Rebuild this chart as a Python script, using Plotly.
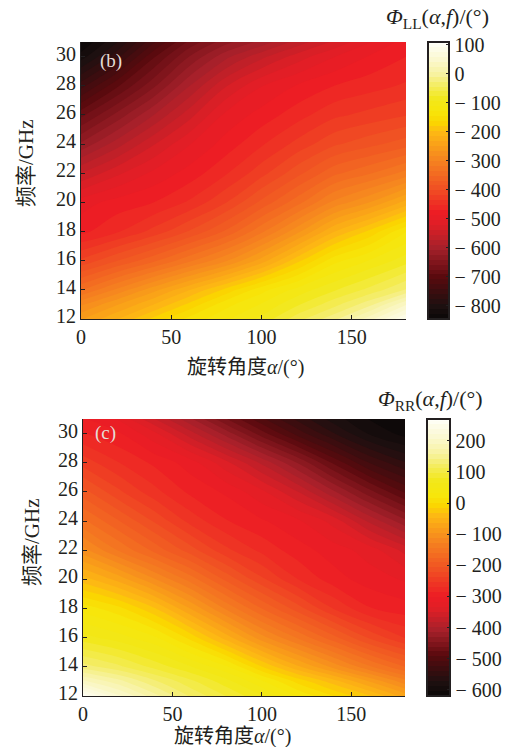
import plotly.graph_objects as go

W, H = 515, 747
alpha = [0, 20, 40, 60, 80, 100, 120, 140, 160, 180]
freq = [12, 13, 14, 16, 18, 20, 22, 24, 26, 28, 30, 31]

phi_ll = [
    [-250, -215, -175, -140, -115, -90, -50, -15, 35, 95],
    [-285, -250, -215, -175, -135, -110, -80, -50, -15, 40],
    [-335, -295, -255, -215, -175, -135, -105, -80, -55, -25],
    [-415, -385, -355, -320, -285, -240, -185, -135, -110, -85],
    [-475, -455, -430, -400, -365, -320, -270, -215, -175, -130],
    [-495, -480, -470, -450, -420, -380, -340, -295, -265, -225],
    [-555, -525, -500, -480, -455, -425, -390, -355, -335, -310],
    [-620, -580, -540, -505, -480, -455, -430, -405, -390, -375],
    [-680, -635, -590, -545, -500, -480, -460, -440, -430, -420],
    [-750, -695, -645, -590, -540, -505, -485, -470, -460, -450],
    [-820, -765, -695, -640, -595, -560, -530, -505, -485, -470],
    [-845, -795, -730, -670, -630, -600, -565, -535, -505, -480],
]
phi_rr = [
    [265, 210, 165, 125, 95, 65, 30, 0, -30, -70],
    [195, 165, 130, 100, 70, 35, -5, -40, -80, -120],
    [135, 115, 90, 65, 35, -15, -60, -100, -140, -175],
    [70, 55, 35, -5, -55, -105, -145, -185, -225, -255],
    [25, 5, -30, -80, -130, -175, -215, -255, -285, -295],
    [-40, -70, -110, -150, -195, -235, -270, -295, -310, -320],
    [-105, -145, -180, -215, -250, -275, -295, -310, -325, -355],
    [-155, -190, -225, -260, -285, -300, -315, -340, -385, -425],
    [-200, -235, -265, -290, -305, -330, -365, -410, -455, -495],
    [-245, -270, -290, -310, -345, -385, -430, -480, -525, -555],
    [-285, -300, -330, -375, -420, -470, -515, -555, -590, -610],
    [-300, -320, -365, -410, -460, -505, -545, -580, -605, -620],
]
ll_ticks = [100, 0, -100, -200, -300, -400, -500, -600, -700, -800]
rr_ticks = [200, 100, 0, -100, -200, -300, -400, -500, -600]
x_ticks = [0, 50, 100, 150]
y_ticks = [12, 14, 16, 18, 20, 22, 24, 26, 28, 30]

ll_stops = [(-845, "#0a0707"), (-800, "#1e1010"), (-700, "#5a0a0e"), (-600, "#a5202a"), (-520, "#e01f26"),
            (-480, "#ed1c24"), (-400, "#f04e23"), (-300, "#f58220"), (-200, "#fdb913"), (-170, "#fbd500"),
            (-130, "#f7e60a"), (-90, "#f2e81a"), (-40, "#f4ec60"), (0, "#f7f2a0"), (50, "#fbf8d0"), (110, "#fffff8")]
rr_stops = [(-620, "#0a0707"), (-575, "#1e1010"), (-490, "#5a0a0e"), (-410, "#a5202a"), (-340, "#e01f26"),
            (-300, "#ed1c24"), (-220, "#f04e23"), (-125, "#f58220"), (-40, "#fdb913"), (-10, "#fbd500"),
            (20, "#f7e60a"), (70, "#f2e81a"), (120, "#f4ec60"), (160, "#f7f2a0"), (210, "#fbf8d0"), (270, "#fffff8")]

def cs(stops):
    lo, hi = stops[0][0], stops[-1][0]
    return [[(v - lo) / (hi - lo), c] for v, c in stops]

def minus(t):
    return "\u2212 " + str(-t) if t < 0 else str(t)

FONT = "Liberation Serif, Noto Sans CJK SC, serif"
INK = "#231f20"
fig = go.Figure()

panels = [
    dict(z=phi_ll, stops=ll_stops, ticks=ll_ticks, box=(81, 406, 42, 319), bar=(428, 449),
         xa="x", ya="y", lab="(b)", labx=98, laby=61,
         title="<i>Φ</i><sub>LL</sub>(<i>α</i>,<i>f</i>)/(°)", tx=437, ty=18, xt=245, xty=367, yt=26, yty=163),
    dict(z=phi_rr, stops=rr_stops, ticks=rr_ticks, box=(83, 405, 419, 696), bar=(427, 450),
         xa="x2", ya="y2", lab="(c)", labx=92, laby=433,
         title="<i>Φ</i><sub>RR</sub>(<i>α</i>,<i>f</i>)/(°)", tx=430, ty=400, xt=232, xty=736, yt=32, yty=542),
]
for p in panels:
    l, r, t, b = p["box"]
    lo, hi = p["stops"][0][0], p["stops"][-1][0]
    fig.add_trace(go.Contour(
        x=alpha, y=freq, z=p["z"], xaxis=p["xa"], yaxis=p["ya"],
        colorscale=cs(p["stops"]), zmin=lo, zmax=hi, line_width=0, line_smoothing=1,
        contours=dict(coloring="fill", start=lo, end=hi, size=(hi - lo) / 56, showlines=False),
        colorbar=dict(
            x=p["bar"][0] / W, xanchor="left", xref="paper", y=1 - b / H, yanchor="bottom", yref="paper",
            len=(b - t) / H, lenmode="fraction", thickness=p["bar"][1] - p["bar"][0], thicknessmode="pixels",
            xpad=0, ypad=0, outlinecolor=INK, outlinewidth=2,
            ticks="inside", ticklen=4, tickcolor=INK, tickwidth=1,
            tickvals=p["ticks"], ticktext=[minus(v) for v in p["ticks"]],
            tickfont=dict(family=FONT, size=20, color=INK),
        ),
    ))

axis = dict(range=None, ticks="inside", ticklen=4, tickcolor=INK, showgrid=False, zeroline=False,
            showline=True, linecolor=INK, linewidth=1.2, mirror=False,
            tickfont=dict(family=FONT, size=20, color=INK))
for i, p in enumerate(panels):
    l, r, t, b = p["box"]
    s = "" if i == 0 else "2"
    fig.update_layout({
        "xaxis" + s: dict(axis, range=[0, 180], domain=[l / W, r / W], tickvals=x_ticks,
                          anchor="y" + s),
        "yaxis" + s: dict(axis, range=[12, 31], domain=[1 - b / H, 1 - t / H], tickvals=y_ticks,
                          anchor="x" + s, ticklabelshift=-3),
    })
    xf = lambda v: v / W
    yf = lambda v: 1 - v / H
    common = dict(xref="paper", yref="paper", showarrow=False, xanchor="center", yanchor="middle")
    fig.add_annotation(common, x=xf(p["labx"] + 13), y=yf(p["laby"]), text=p["lab"],
                       font=dict(family=FONT, size=19, color="#e6dcd6"))
    fig.add_annotation(common, x=xf(p["tx"]), y=yf(p["ty"]), text=p["title"],
                       font=dict(family=FONT, size=22, color=INK))
    fig.add_annotation(common, x=xf(p["xt"]), y=yf(p["xty"]), text="旋转角度<i>α</i>/(°)",
                       font=dict(family=FONT, size=20, color=INK))
    fig.add_annotation(common, x=xf(p["yt"]), y=yf(p["yty"]), text="频率/GHz", textangle=-90,
                       font=dict(family=FONT, size=21, color=INK))

fig.update_layout(width=W, height=H, margin=dict(l=0, r=0, t=0, b=0, autoexpand=False), showlegend=False,
                  paper_bgcolor="white", plot_bgcolor="white")
fig.write_html("out.html", post_script="document.body.style.margin='0';", config=dict(displayModeBar=False))
